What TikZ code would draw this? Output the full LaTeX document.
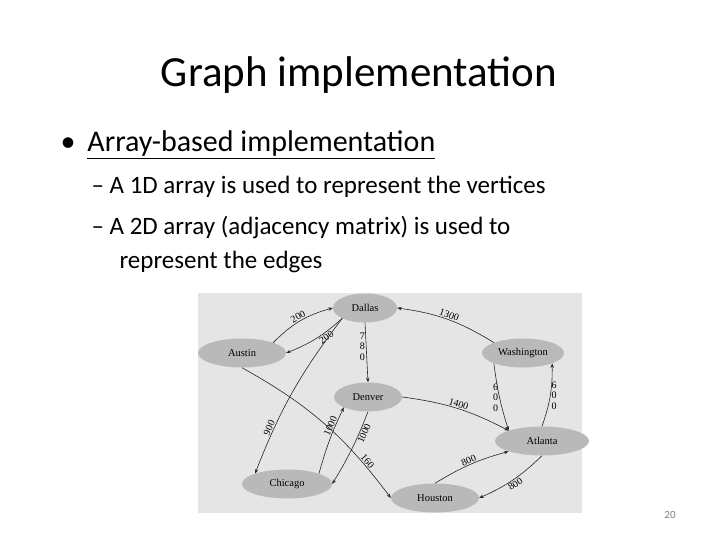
\documentclass[tikz,border=0pt]{standalone}
\usepackage{fontspec}
\setmainfont{Carlito}
\newfontfamily\gfont{Liberation Serif}
\usetikzlibrary{arrows.meta,shapes.geometric}
\begin{document}
\begin{tikzpicture}[x=1pt,y=-1pt,
  city/.style={ellipse,fill=gray!55,draw=none,minimum width=#1,minimum height=29pt,font=\gfont\fontsize{10.5}{10.5}\selectfont,inner sep=0pt},
  city/.default=70pt,
  e/.style={-{Stealth[length=4.5pt,width=3.5pt]},draw=black!85,line width=0.6pt},
  lab/.style={font=\gfont\fontsize{10}{10}\selectfont,inner sep=1pt},
  vlab/.style={font=\gfont\fontsize{10}{10.5}\selectfont,align=center,inner sep=1pt}]
\useasboundingbox (0,0) rectangle (720,540);
\fill[white] (0,0) rectangle (720,540);
\node (title) at (359,75) {\fontsize{43}{46}\selectfont Graph implementation};
\node[anchor=west] (b1) at (57,145) {\fontsize{30}{33}\selectfont •\hspace{12pt}\underline{Array-based implementation}};
\node[anchor=west] (s1) at (88,187) {\fontsize{25}{29}\selectfont – A 1D array is used to represent the vertices};
\node[anchor=west] (s2) at (88,227) {\fontsize{25}{29}\selectfont – A 2D array (adjacency matrix) is used to};
\node[anchor=west] (s3) at (116,262) {\fontsize{25}{29}\selectfont represent the edges};
\node[text=gray] (pg) at (670,515) {\fontsize{11}{12}\selectfont 20};
\fill[gray!20] (198,293) rectangle (582,513);
\node[city=64pt] (dal) at (365,308) {Dallas};
\node[city=88pt] (aus) at (242,353) {Austin};
\node[city=82pt] (was) at (523,353) {Washington};
\node[city=68pt] (den) at (368,397) {Denver};
\node[city=94pt] (atl) at (542,441) {Atlanta};
\node[city=90pt] (chi) at (287,484) {Chicago};
\node[city=88pt] (hou) at (435,498) {Houston};
\draw[e] (aus.north east) to[bend left=15] node[lab,above,sloped] {200} (dal.west);
\draw[e] (dal.south west) to[bend left=10] node[lab,below,sloped,pos=0.35] {200} (aus.east);
\draw[e] (dal.south) -- node[vlab,left,pos=0.4] {7\\8\\0} (den.north);
\draw[e] (was.north west) to[bend right=12] node[lab,above,sloped] {1300} (dal.east);
\draw[e] (was.south west) to[bend right=5] node[vlab,left] {6\\0\\0} (atl.north west);
\draw[e] (atl.north) to[bend right=10] node[vlab,right] {6\\0\\0} (was.south east);
\draw[e] (den.east) to[bend left=10] node[lab,above,sloped] {1400} (atl.north west);
\draw[e] (dal.south west) to[bend right=8] node[lab,above,sloped,pos=0.75] {900} (chi.north west);
\draw[e] (chi.north east) to[bend left=5] node[lab,above,sloped,pos=0.7] {1000} (den.south west);
\draw[e] (den.south) to[bend left=5] node[lab,below,sloped,pos=0.25] {1000} (chi.east);
\draw[e] (aus.south) to[bend left=12] node[lab,above,sloped,pos=0.8] {160} (hou.west);
\draw[e] (hou.north) to[bend left=8] node[lab,above,sloped] {800} (atl.south west);
\draw[e] (atl.south) to[bend left=10] node[lab,below,sloped] {800} (hou.east);
\end{tikzpicture}
\end{document}
